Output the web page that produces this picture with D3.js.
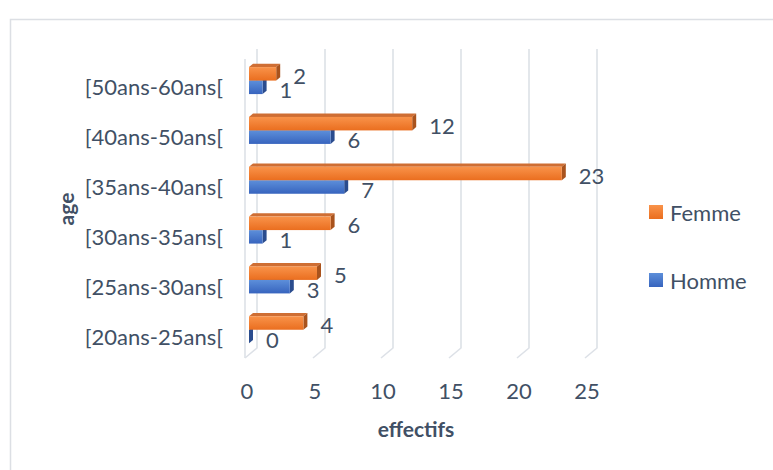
<!DOCTYPE html>
<html>
<head>
<meta charset="utf-8">
<script src="https://cdn.jsdelivr.net/npm/d3@7"></script>
<style>
  html, body { margin: 0; padding: 0; background: #fff; }
  svg { display: block; }
  text { font-family: Lato, "Open Sans", sans-serif; fill: #415065; }
</style>
</head>
<body>
<svg id="chart" width="773" height="470"></svg>
<script>
// Age groups (bottom to top) and head counts per sex
const categories = ["[20ans-25ans[", "[25ans-30ans[", "[30ans-35ans[", "[35ans-40ans[", "[40ans-50ans[", "[50ans-60ans["];
const homme = [0, 3, 1, 7, 6, 1];
const femme = [4, 5, 6, 23, 12, 2];
const seriesNames = ["Femme", "Homme"];
const xTicks = [0, 5, 10, 15, 20, 25];

const svg = d3.select("#chart");
const defs = svg.append("defs");

function grad(id, top, bottom) {
  const g = defs.append("linearGradient").attr("id", id)
    .attr("x1", 0).attr("y1", 0).attr("x2", 0).attr("y2", 1);
  g.append("stop").attr("offset", "0%").attr("stop-color", top);
  g.append("stop").attr("offset", "100%").attr("stop-color", bottom);
}
grad("gFemme", "#F9934A", "#EA6E1F");
grad("gHomme", "#5D8FDA", "#3764BE");

const colors = {
  Femme: { front: "url(#gFemme)", top: "#CF6E33", side: "#A9531D" },
  Homme: { front: "url(#gHomme)", top: "#3B66B5", side: "#2A4C8E" }
};

// Outer chart frame
svg.append("rect").attr("x", 10.5).attr("y", 19.5).attr("width", 900).attr("height", 600)
  .attr("fill", "none").attr("stroke", "#DCDFE4").attr("stroke-width", 1.5);

// Plot geometry: front plane and perspective depth offset
const frontLeft = 245, plotTop = 59, plotBottom = 358;
const depthX = 12, depthY = -10;

const x = d3.scaleLinear().domain([0, 25]).range([0, 340]);
const y = d3.scaleBand().domain(categories.slice().reverse()).range([plotTop, plotBottom]);

// Back wall gridlines and floor edges
const grid = svg.append("g").attr("stroke", "#DDE1E7").attr("stroke-width", 1.6).attr("fill", "none");
xTicks.forEach(t => {
  const bx = frontLeft + depthX + x(t);
  grid.append("path").attr("d",
    `M${bx},${plotTop + depthY} L${bx},${plotBottom + depthY} L${bx - depthX},${plotBottom}`);
});
grid.append("line").attr("x1", frontLeft).attr("x2", frontLeft)
  .attr("y1", plotTop).attr("y2", plotBottom);

// Bars sit in the middle third of the depth
const bx0 = frontLeft + depthX / 3, by0 = depthY / 3;
const sx = depthX / 3, sy = depthY / 3;
const barH = 13.5;

function drawBar(g, v, yTop, c) {
  const x0 = bx0, x1 = bx0 + x(v), y0 = yTop, y1 = yTop + barH;
  g.append("path").attr("fill", c.top)
    .attr("d", `M${x0},${y0} L${x1},${y0} L${x1 + sx},${y0 + sy} L${x0 + sx},${y0 + sy} Z`);
  g.append("path").attr("fill", c.side)
    .attr("d", `M${x1},${y0} L${x1 + sx},${y0 + sy} L${x1 + sx},${y1 + sy} L${x1},${y1} Z`);
  if (v > 0) g.append("rect").attr("x", x0).attr("y", y0).attr("width", x1 - x0).attr("height", barH)
    .attr("fill", c.front);
}

const bars = svg.append("g");
const labels = svg.append("g").attr("font-size", 22);
categories.forEach((cat, i) => {
  const center = y(cat) + y.bandwidth() / 2 + by0;
  const fTop = center - barH, hTop = center;
  drawBar(bars, homme[i], hTop, colors.Homme);
  drawBar(bars, femme[i], fTop, colors.Femme);
  labels.append("text").attr("x", bx0 + x(femme[i]) + 17).attr("y", fTop + barH / 2 + 1.5)
    .attr("dominant-baseline", "central").text(femme[i]);
  labels.append("text").attr("x", bx0 + x(homme[i]) + 17).attr("y", hTop + barH / 2 + 2.5)
    .attr("dominant-baseline", "central").text(homme[i]);
});

// Category labels
svg.append("g").attr("font-size", 22).selectAll("text").data(categories).join("text")
  .attr("x", 223).attr("y", d => y(d) + y.bandwidth() / 2 + 3)
  .attr("text-anchor", "end").attr("dominant-baseline", "central").text(d => d);

// Value axis labels
svg.append("g").attr("font-size", 22).selectAll("text").data(xTicks).join("text")
  .attr("x", d => frontLeft + x(d) + 2).attr("y", 390)
  .attr("text-anchor", "middle").attr("dominant-baseline", "central").text(d => d);

// Axis titles
svg.append("text").attr("x", 416).attr("y", 428).attr("text-anchor", "middle")
  .attr("dominant-baseline", "central").attr("font-size", 21).attr("font-weight", "bold").text("effectifs");
svg.append("text").attr("transform", "translate(65,209) rotate(-90)").attr("text-anchor", "middle")
  .attr("dominant-baseline", "central").attr("font-size", 21).attr("font-weight", "bold").text("age");

// Legend
const legend = svg.append("g");
seriesNames.forEach((s, i) => {
  const ly = 205 + i * 68;
  legend.append("rect").attr("x", 649).attr("y", ly).attr("width", 14).attr("height", 14)
    .attr("fill", colors[s].front);
  legend.append("text").attr("x", 670).attr("y", ly + 7).attr("dominant-baseline", "central")
    .attr("font-size", 22).text(s);
});
</script>
</body>
</html>
